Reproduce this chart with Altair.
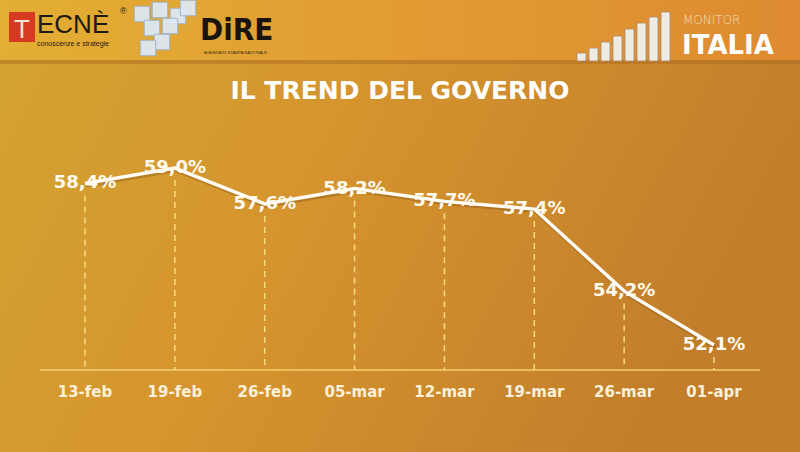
import altair as alt
import pandas as pd

# ---- data ----
dates = ["13-feb", "19-feb", "26-feb", "05-mar", "12-mar", "19-mar", "26-mar", "01-apr"]
values = [58.4, 59.0, 57.6, 58.2, 57.7, 57.4, 54.2, 52.1]
labels = ["58,4%", "59,0%", "57,6%", "58,2%", "57,7%", "57,4%", "54,2%", "52,1%"]

title_text = "IL TREND DEL GOVERNO"

# decorative logo bars (Monitor Italia)
logo_bar_x = [577, 589, 601, 613, 625, 637, 649, 661]
logo_bar_top = [53, 48, 42, 36, 29, 23, 17, 12]

df = pd.DataFrame({"date": dates, "value": values, "label": labels})

W, H = 800, 452
FONT = "DejaVu Sans"

xs = alt.X("date:O", sort=dates, scale=alt.Scale(type="point", range=[85, 714], padding=0), axis=None)
ys = alt.Y("value:Q", scale=alt.Scale(domain=[47.93, 65.55], nice=False, zero=False), axis=None)

one = pd.DataFrame({"k": [0]})

bg = alt.Chart(one).mark_rect(
    fill={"gradient": "linear", "x1": 0, "y1": 0, "x2": 1, "y2": 0.3,
          "stops": [{"offset": 0, "color": "#D3A332"},
                    {"offset": 0.45, "color": "#D6952E"},
                    {"offset": 1, "color": "#C27E2B"}]}
).encode(x=alt.value(0), x2=alt.value(W), y=alt.value(0), y2=alt.value(H))

header = alt.Chart(one).mark_rect(
    fill={"gradient": "linear", "x1": 0, "y1": 0, "x2": 1, "y2": 0,
          "stops": [{"offset": 0, "color": "#E2AE33"},
                    {"offset": 0.5, "color": "#E29C33"},
                    {"offset": 1, "color": "#DD8A30"}]}
).encode(x=alt.value(0), x2=alt.value(W), y=alt.value(0), y2=alt.value(60))

header_shadow = alt.Chart(one).mark_rect(color="#A8681E", opacity=0.45).encode(
    x=alt.value(0), x2=alt.value(W), y=alt.value(60), y2=alt.value(64))

# Tecnè logo
tecne_box = alt.Chart(one).mark_rect(color="#D63A22").encode(
    x=alt.value(9), x2=alt.value(35), y=alt.value(12), y2=alt.value(42))
tecne_T = alt.Chart(one).mark_text(text="T", font="Liberation Sans", fontSize=26, color="#F4E3D6",
                                   align="center", baseline="alphabetic").encode(
    x=alt.value(22), y=alt.value(38))
tecne_txt = alt.Chart(one).mark_text(text="ECNÈ", font="Liberation Sans", fontSize=26, color="#1E1A16",
                                     align="left", baseline="alphabetic").encode(
    x=alt.value(37), y=alt.value(33))
tecne_reg = alt.Chart(one).mark_text(text="®", font="Liberation Sans", fontSize=9, color="#1E1A16",
                                     align="left", baseline="alphabetic").encode(
    x=alt.value(120), y=alt.value(14))
tecne_sub = alt.Chart(one).mark_text(text="conoscenze e strategie", font="Liberation Sans", fontSize=7,
                                     color="#2A2016", align="left", baseline="alphabetic").encode(
    x=alt.value(37), y=alt.value(46))

# puzzle cube decoration
cube_x = [142, 160, 178, 152, 170, 162, 188, 148]
cube_y = [14, 10, 16, 28, 26, 42, 8, 48]
cube = alt.Chart(pd.DataFrame({"cx": cube_x, "cy": cube_y})).mark_square(
    size=240, color="#DDE8F2", opacity=0.95, stroke="#9DB4CC", strokeWidth=1
).encode(x=alt.X("cx:Q", scale=None), y=alt.Y("cy:Q", scale=None))

dire_txt = alt.Chart(one).mark_text(text="DiRE", font="DejaVu Sans Condensed", fontWeight="bold",
                                    fontSize=31, color="#1A1410", align="left",
                                    baseline="alphabetic").encode(x=alt.value(200), y=alt.value(40))
dire_sub = alt.Chart(one).mark_text(text="AGENZIA DI STAMPA NAZIONALE", font="Liberation Sans", fontSize=4,
                                    color="#3A2A18", align="left", baseline="alphabetic").encode(
    x=alt.value(204), y=alt.value(54))

# Monitor Italia logo
bars_df = pd.DataFrame({"bx": logo_bar_x, "bt": logo_bar_top})
bars_df["bx2"] = bars_df["bx"] + 9
bars_df["bb"] = 61
logo_bars = alt.Chart(bars_df).mark_rect(color="#EEEAE4", stroke="#B08A60", strokeWidth=0.8).encode(
    x=alt.X("bx:Q", scale=None), x2="bx2:Q", y=alt.Y("bt:Q", scale=None), y2="bb:Q")
monitor = alt.Chart(one).mark_text(text="MONITOR", font="DejaVu Sans", fontWeight=200, fontSize=12,
                                   color="#F1DDB8", align="left", baseline="alphabetic").encode(
    x=alt.value(683), y=alt.value(24))
italia = alt.Chart(one).mark_text(text="ITALIA", font=FONT, fontWeight="bold", fontSize=26,
                                  color="#FFFFFF", align="left", baseline="alphabetic").encode(
    x=alt.value(682), y=alt.value(54))

# title
title = alt.Chart(one).mark_text(text=title_text, font=FONT, fontWeight="bold", fontSize=25,
                                 color="#FFFFFF", align="center", baseline="middle").encode(
    x=alt.value(400), y=alt.value(91))

base = alt.Chart(df)

baseline_rule = alt.Chart(one).mark_rule(color="#F2CF6E", strokeWidth=1.5).encode(
    x=alt.value(40), x2=alt.value(760), y=alt.value(370))

drops = base.mark_rule(color="#F7DC82", strokeWidth=1.5, strokeDash=[6, 5], yOffset=12).encode(
    x=xs, y=ys, y2=alt.value(370))

line_shadow = base.mark_line(color="#7A4C14", opacity=0.35, strokeWidth=4, yOffset=2, xOffset=1).encode(
    x=xs, y=ys)
line = base.mark_line(color="#FFFDF5", strokeWidth=3.5).encode(x=xs, y=ys)

val_labels = base.mark_text(font=FONT, fontWeight="bold", fontSize=18, color="#FFFBEF",
                            align="center", baseline="middle").encode(x=xs, y=ys, text="label:N")

x_labels = base.mark_text(font=FONT, fontWeight="bold", fontSize=15, color="#FBF0DA",
                          align="center", baseline="middle").encode(x=xs, y=alt.value(392), text="date:N")

chart = alt.layer(
    bg, header, header_shadow,
    tecne_box, tecne_T, tecne_txt, tecne_reg, tecne_sub, cube, dire_txt, dire_sub,
    logo_bars, monitor, italia,
    title,
    baseline_rule, drops, line_shadow, line, val_labels, x_labels
).properties(
    width=W, height=H, autosize=alt.AutoSizeParams(type="none"), padding=0
).configure_view(stroke=None)

chart.save("out.html", embed_options={"renderer": "svg", "actions": False})
